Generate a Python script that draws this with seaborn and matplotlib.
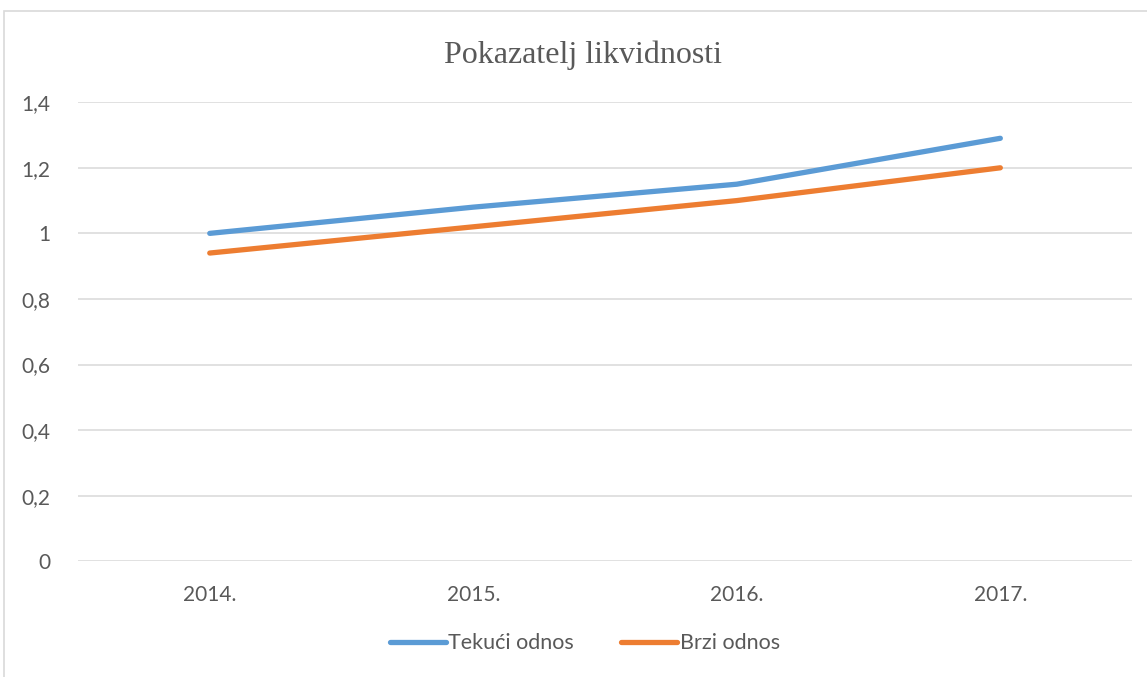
import pandas as pd
from matplotlib import pyplot as plt
from matplotlib.patches import Rectangle
import seaborn as sns

# Data
years = ["2014.", "2015.", "2016.", "2017."]
tekuci = [1.00, 1.08, 1.15, 1.29]
brzi = [0.94, 1.02, 1.10, 1.20]
series_names = ["Tekući odnos", "Brzi odnos"]
y_ticks = [0, 0.2, 0.4, 0.6, 0.8, 1.0, 1.2, 1.4]
y_labels = ["0", "0,2", "0,4", "0,6", "0,8", "1", "1,2", "1,4"]

df = pd.DataFrame({
    "year": years * 2,
    "value": tekuci + brzi,
    "series": [series_names[0]] * 4 + [series_names[1]] * 4,
})

sns.set_style("white")
plt.rcParams['font.family'] = ['Lato', 'DejaVu Sans']
text_color = "#595959"

fig = plt.figure(figsize=(11.47, 6.77), dpi=100)
ax = fig.add_axes([0.068, 0.171, 0.919, 0.678])

sns.lineplot(data=df, x="year", y="value", hue="series",
             palette=["#5B9BD5", "#ED7D31"], linewidth=3.8, ax=ax,
             legend=False, solid_capstyle="round")

ax.set_xlim(-0.5, 3.5)
ax.set_ylim(0, 1.4)
ax.set_yticks(y_ticks)
ax.set_yticklabels(y_labels)
ax.set_xticks(range(len(years)))
ax.set_xticklabels(years)
ax.grid(axis="y", color="#D9D9D9", linewidth=1.1)
ax.set_axisbelow(True)
for s in ax.spines.values():
    s.set_visible(False)
ax.tick_params(axis="both", length=0, labelsize=15, colors=text_color)
ax.tick_params(axis="y", pad=20)
ax.tick_params(axis="x", pad=17)
ax.set_xlabel("")
ax.set_ylabel("")

fig.text(0.508, 0.919, "Pokazatelj likvidnosti", ha="center", va="center",
         fontsize=23, family="Liberation Serif", color=text_color)

# Legend at the bottom
handles = [plt.Line2D([], [], color=c, linewidth=3.8, solid_capstyle="round")
           for c in ["#5B9BD5", "#ED7D31"]]
fig.legend(handles, series_names, loc="center", bbox_to_anchor=(0.51, 0.05),
           ncol=2, frameon=False, fontsize=15.5, labelcolor=text_color,
           handlelength=2.6, handletextpad=0.1, columnspacing=2.2)

# Chart border
fig.patches.append(Rectangle((4 / 1147, -0.05), 1.1, 1 - 11 / 677 + 0.05,
                             transform=fig.transFigure, fill=False,
                             edgecolor="#D9D9D9", linewidth=1.2))

fig.savefig("out.png", dpi=100)
